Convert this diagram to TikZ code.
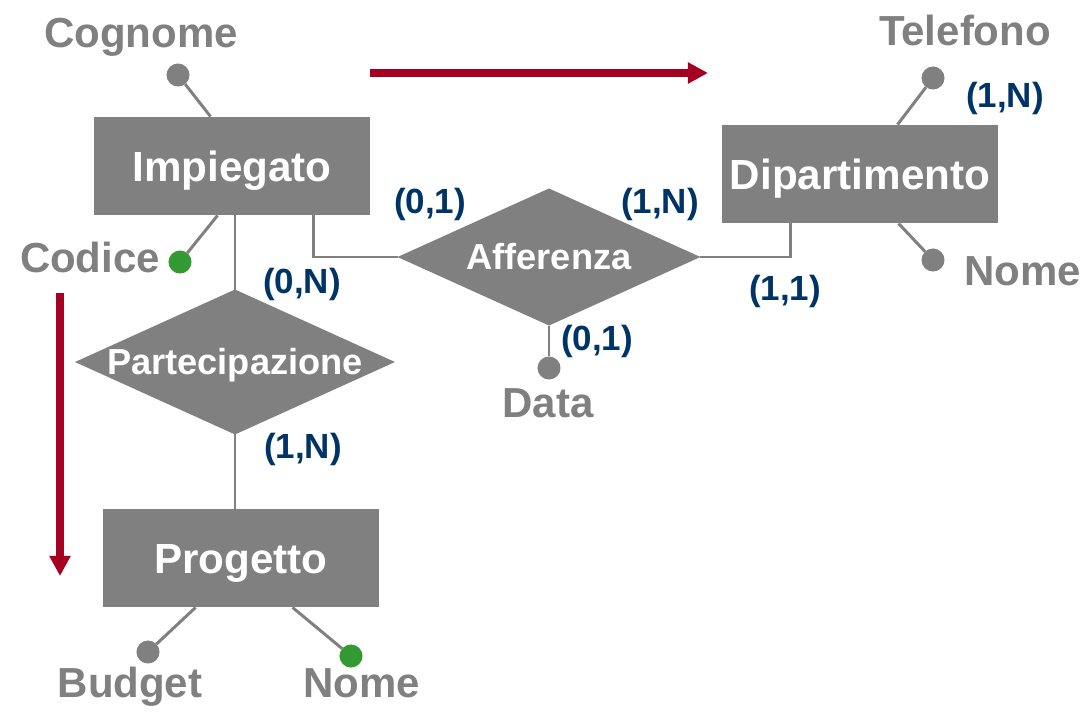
\documentclass[tikz,border=0pt]{standalone}
\usepackage{fontspec}
\setmainfont{Liberation Sans}
\usetikzlibrary{shapes.geometric,arrows.meta,calc}
\definecolor{ergrey}{RGB}{128,128,128}
\definecolor{erblue}{RGB}{0,51,102}
\definecolor{ergreen}{RGB}{51,153,51}
\definecolor{erred}{RGB}{165,0,33}

\begin{document}
\begin{tikzpicture}[x=0.02cm,y=-0.02cm,
    entity/.style={fill=ergrey,minimum width=157.6pt,minimum height=56.3pt,
      inner sep=0pt,outer sep=0pt,text=white,
      font=\bfseries\fontsize{24}{28}\selectfont,text height=17.2pt,text depth=0pt},
    relation/.style={diamond,fill=ergrey,inner sep=0pt,outer sep=0pt},
    reltext/.style={text=white,inner sep=0pt,
      font=\bfseries\fontsize{20.6}{24}\selectfont,text height=14.7pt,text depth=0pt},
    attr/.style={circle,fill=ergrey,minimum size=13.1pt,inner sep=0pt,outer sep=0pt},
    key/.style={attr,fill=ergreen},
    attrtext/.style={anchor=base,inner sep=0pt,text=ergrey,
      font=\bfseries\fontsize{23.9}{28}\selectfont},
    card/.style={anchor=base,inner sep=0pt,text=erblue,
      font=\bfseries\fontsize{19.9}{23}\selectfont},
    link/.style={draw=ergrey,line width=1.7pt},
    flow/.style={draw=erred,line width=4pt,-{Triangle[length=11.4pt,width=11.4pt]}}]
  \useasboundingbox (0,0) rectangle (1086,727);
  % entita
  \node[entity] (imp) at (232,166) {Impiegato};
  \node[entity] (dip) at (860,174) {Dipartimento};
  \node[entity] (prog) at (241,558) {Progetto};
  % relazioni
  \node[relation,minimum width=182.1pt,minimum height=82.5pt,
    label={[reltext]center:Partecipazione}] (part) at (235,362) {};
  \node[relation,minimum width=172.4pt,minimum height=78pt,
    label={[reltext]center:Afferenza}] (aff) at (549,257) {};
  % attributi
  \node[attr] (cogn-d) at (178,75) {};
  \node[key] (cod-d) at (180,262) {};
  \node[attr] (tel-d) at (933,78) {};
  \node[attr] (dnome-d) at (933,260) {};
  \node[attr] (data-d) at (549,368) {};
  \node[attr] (bud-d) at (148,652) {};
  \node[key] (pnome-d) at (351,656) {};
  \node[attrtext] (cogn) at (141,47) {Cognome};
  \node[attrtext] (cod) at (90,272) {Codice};
  \node[attrtext] (tel) at (965,45) {Telefono};
  \node[attrtext] (dnome) at (1023,285) {Nome};
  \node[attrtext] (data) at (548,417) {Data};
  \node[attrtext] (bud) at (130,697) {Budget};
  \node[attrtext] (pnome) at (362,697) {Nome};
  % cardinalita
  \node[card] (c-imp-aff) at (430,213) {(0,1)};
  \node[card] (c-dip-aff) at (660,213) {(1,N)};
  \node[card] (c-imp-part) at (302,293) {(0,N)};
  \node[card] (c-prog-part) at (303,458) {(1,N)};
  \node[card] (c-aff-dip) at (785,300) {(1,1)};
  \node[card] (c-data) at (597,350) {(0,1)};
  \node[card] (c-tel) at (1005,107) {(1,N)};
  % collegamenti
  \draw[link] (cogn-d) -- ($(imp.north west)+(117,0)$);
  \draw[link] (cod-d) -- ($(imp.south west)+(124,0)$);
  \draw[link] (part.north) -- (part.north |- imp.south);
  \draw[link] (part.south) -- (part.south |- prog.north);
  \draw[link] ($(imp.south west)+(220,0)$) |- (aff.west);
  \draw[link] (aff.east) -| ($(dip.south west)+(69,0)$);
  \draw[link] (aff.south) -- (data-d);
  \draw[link] ($(dip.north west)+(176,0)$) -- (tel-d);
  \draw[link] ($(dip.south west)+(177,0)$) -- (dnome-d);
  \draw[link] ($(prog.south west)+(93,0)$) -- (bud-d);
  \draw[link] ($(prog.south west)+(190,0)$) -- (pnome-d);
  % frecce
  \coordinate (h-from) at (370,73);
  \coordinate (h-to) at (708,73);
  \coordinate (v-from) at (60,293);
  \coordinate (v-to) at (60,576);
  \draw[flow] (h-from) -- (h-to);
  \draw[flow] (v-from) -- (v-to);
\end{tikzpicture}
\end{document}
